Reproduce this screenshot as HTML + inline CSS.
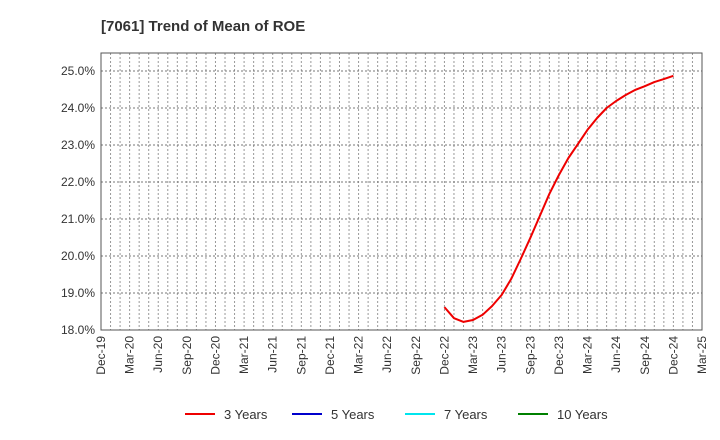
<!DOCTYPE html>
<html><head><meta charset="utf-8"><style>
body{margin:0;background:#fff;}
svg{display:block;font-family:"Liberation Sans",sans-serif;}
</style></head><body>
<svg id="chart" width="720" height="440">
<text x="101" y="31" font-size="15" font-weight="bold" fill="#333">[7061]  Trend of Mean of ROE</text>
<rect x="101" y="53" width="601" height="277" fill="#fff" stroke="none"/>
<g id="grid"></g>
<g id="yticks"></g>
<g id="xticks"></g>
<g id="series"></g>
<rect x="101" y="53" width="601" height="277" fill="none" stroke="#555" stroke-width="1"/>
<g id="legend"></g>
</svg>
<script>
const yTicks=[18,19,20,21,22,23,24,25];
const xLabels=["Dec-19","Mar-20","Jun-20","Sep-20","Dec-20","Mar-21","Jun-21","Sep-21","Dec-21","Mar-22","Jun-22","Sep-22","Dec-22","Mar-23","Jun-23","Sep-23","Dec-23","Mar-24","Jun-24","Sep-24","Dec-24","Mar-25"];
const series3Start=36; // month index of Dec-22
const series3=[18.62,18.32,18.22,18.27,18.41,18.65,18.95,19.38,19.92,20.49,21.08,21.68,22.19,22.65,23.03,23.41,23.73,24.0,24.19,24.35,24.49,24.59,24.70,24.78,24.87];
const legendNames=["3 Years","5 Years","7 Years","10 Years"];
const legendColors=["#ee0000","#0000cc","#00e5ee","#008000"];
const NS="http://www.w3.org/2000/svg";
const X0=101,X1=702,Y0=330,Y1=53,months=63;
const x=m=>X0+m*(X1-X0)/months;
function yy(v){return 330-(v-18)*37;}
function mk(t,a,p){const e=document.createElementNS(NS,t);for(const k in a)e.setAttribute(k,a[k]);p.appendChild(e);return e;}
const grid=document.getElementById('grid');
for(let m=1;m<months;m++){const l=mk('line',{x1:x(m),x2:x(m),y1:Y1,y2:Y0,stroke:'#999','stroke-dasharray':'2,2','stroke-width':1},grid);

}
const yt=document.getElementById('yticks');
yTicks.forEach(v=>{const l=mk('line',{x1:X0,x2:X1,y1:yy(v),y2:yy(v),stroke:'#777','stroke-dasharray':'2,2','stroke-width':1},grid);


const t=mk('text',{x:X0-6,y:yy(v)+4,'text-anchor':'end','font-size':12,fill:'#333'},yt);t.textContent=v.toFixed(1)+'%';

});
const xt=document.getElementById('xticks');
xLabels.forEach((s,i)=>{const px=x(i*3);const t=mk('text',{x:0,y:0,'text-anchor':'end','font-size':12,fill:'#333',transform:`translate(${px+4},336) rotate(-90)`},xt);t.textContent=s;

});
const ser=document.getElementById('series');
const pts=series3.map((v,i)=>x(series3Start+i).toFixed(1)+','+yy(v).toFixed(1)).join(' ');
const pl=mk('polyline',{points:pts,fill:'none',stroke:'#ee0000','stroke-width':2,'stroke-linejoin':'round'},ser);


const lg=document.getElementById('legend');
const lx=[185,292,405,518];
legendNames.forEach((n,i)=>{const g=mk('g',{},lg);


mk('line',{x1:lx[i],x2:lx[i]+30,y1:414,y2:414,stroke:legendColors[i],'stroke-width':2},g);
const t=mk('text',{x:lx[i]+39,y:419,'font-size':13,fill:'#333'},g);t.textContent=n;});
</script>
</body></html>
